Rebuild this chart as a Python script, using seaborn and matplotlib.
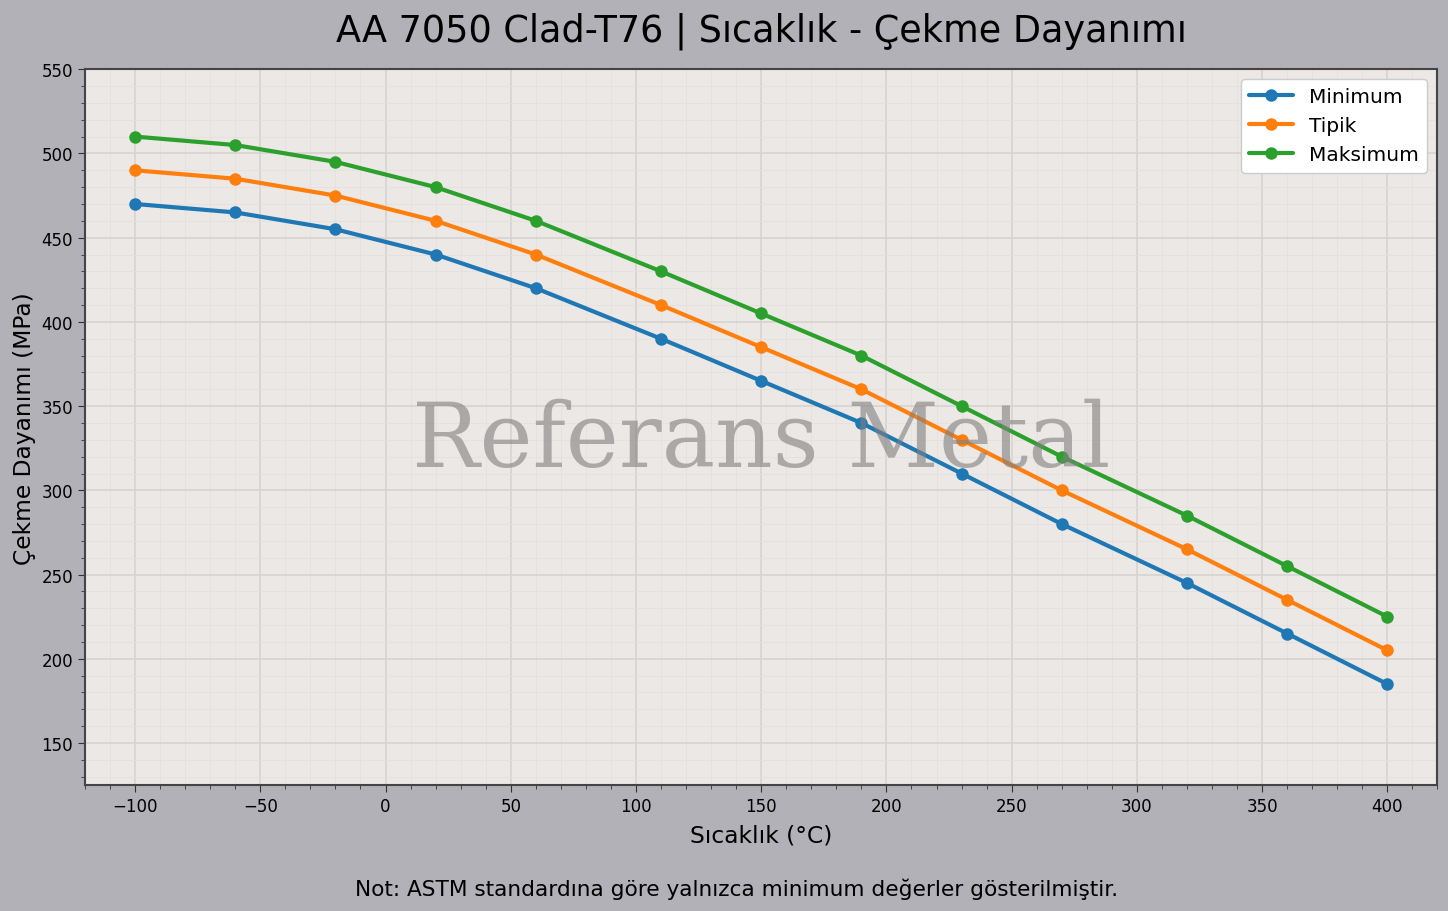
import pandas as pd
import matplotlib.pyplot as plt
import seaborn as sns
from matplotlib.ticker import MultipleLocator

# Veriler
sicaklik = [-100, -60, -20, 20, 60, 110, 150, 190, 230, 270, 320, 360, 400]
minimum = [470, 465, 455, 440, 420, 390, 365, 340, 310, 280, 245, 215, 185]
tipik = [490, 485, 475, 460, 440, 410, 385, 360, 330, 300, 265, 235, 205]
maksimum = [510, 505, 495, 480, 460, 430, 405, 380, 350, 320, 285, 255, 225]
seriler = ['Minimum', 'Tipik', 'Maksimum']

df = pd.DataFrame({'Sıcaklık': sicaklik, 'Minimum': minimum, 'Tipik': tipik, 'Maksimum': maksimum})
df = df.melt(id_vars='Sıcaklık', var_name='Seri', value_name='Değer')

sns.set_style('ticks')
plt.rcParams['font.family'] = ['DejaVu Sans']
plt.rcParams['text.color'] = 'black'
plt.rcParams['axes.labelcolor'] = 'black'
plt.rcParams['xtick.color'] = 'black'
plt.rcParams['ytick.color'] = 'black'

fig = plt.figure(figsize=(14.48, 9.12), dpi=100, facecolor='#b1b1b7')
ax = fig.add_axes([0.0587, 0.138, 0.934, 0.785])
ax.set_facecolor('#ebe8e6')

sns.lineplot(data=df, x='Sıcaklık', y='Değer', hue='Seri', hue_order=seriler,
             palette=['#1f77b4', '#ff7f0e', '#2ca02c'], marker='o', markersize=9,
             markeredgewidth=0, linewidth=3, ax=ax)

ax.set_xlim(-120, 420)
ax.set_ylim(125, 550)
ax.xaxis.set_major_locator(MultipleLocator(50))
ax.xaxis.set_minor_locator(MultipleLocator(10))
ax.yaxis.set_major_locator(MultipleLocator(50))
ax.yaxis.set_minor_locator(MultipleLocator(10))
ax.grid(which='major', color='#d6d3d1', linewidth=1.2)
ax.grid(which='minor', color='#e3e0de', linewidth=0.6)
ax.set_axisbelow(True)
ax.tick_params(which='major', length=5, labelsize=12, color='#333333')
ax.tick_params(which='minor', length=3, color='#333333')
for s in ax.spines.values():
    s.set_color('#444444')
    s.set_linewidth(1.5)

ax.set_xlabel('Sıcaklık (°C)', fontsize=16.8, labelpad=6)
ax.set_ylabel('Çekme Dayanımı (MPa)', fontsize=16.8)
ax.set_title('AA 7050 Clad-T76 | Sıcaklık - Çekme Dayanımı', fontsize=26.4, pad=21)

ax.text(0.5, 0.48, 'Referans Metal', transform=ax.transAxes, ha='center', va='center',
        fontsize=64.5, family='DejaVu Serif', color='#808080', alpha=0.6, zorder=5)

leg = ax.legend(loc='upper right', fontsize=14.5, framealpha=1, handlelength=2.2)
leg.get_frame().set_edgecolor('#cccccc')

fig.text(0.509, 0.017, 'Not: ASTM standardına göre yalnızca minimum değerler gösterilmiştir.',
         ha='center', fontsize=15.6)

plt.savefig('out.png', dpi=100, facecolor=fig.get_facecolor())
